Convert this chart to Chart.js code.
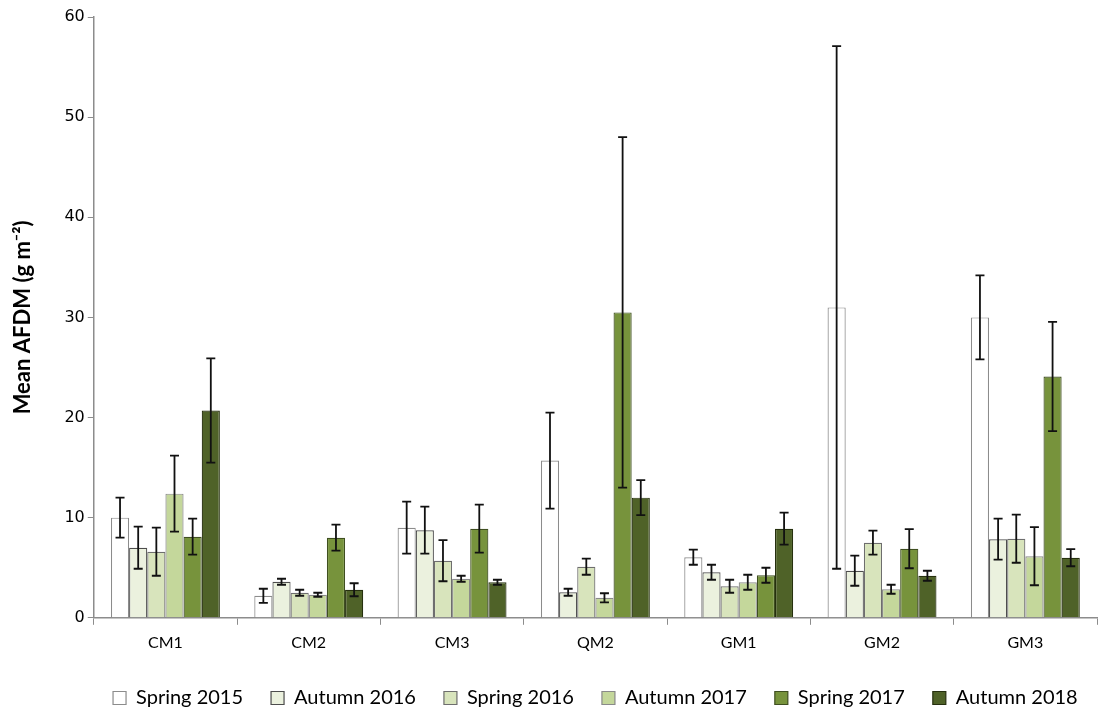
<!DOCTYPE html>
<html>
<head>
<meta charset="utf-8">
<script src="https://cdn.jsdelivr.net/npm/chart.js@4/dist/chart.umd.min.js"></script>
<style>
  html, body { margin: 0; padding: 0; background: #fff; }
  #wrap { width: 1102px; height: 713px; }
</style>
</head>
<body>
<div id="wrap"><canvas id="grafico" width="1102" height="713"></canvas></div>
<script>
// Datos
const sites = ['CM1', 'CM2', 'CM3', 'QM2', 'GM1', 'GM2', 'GM3'];
const seasons = ['Spring 2015', 'Autumn 2016', 'Spring 2016', 'Autumn 2017', 'Spring 2017', 'Autumn 2018'];

const spring2015 = [10.0, 2.2, 9.0, 15.7, 6.05, 31.0, 30.0];
const autumn2016 = [7.0, 3.6, 8.75, 2.55, 4.55, 4.7, 7.85];
const spring2016 = [6.6, 2.5, 5.7, 5.1, 3.15, 7.5, 7.9];
const autumn2017 = [12.4, 2.3, 3.9, 2.0, 3.55, 2.85, 6.15];
const spring2017 = [8.1, 8.0, 8.9, 30.5, 4.25, 6.9, 24.1];
const autumn2018 = [20.7, 2.8, 3.55, 12.0, 8.9, 4.2, 6.0];

// Errores (±)
const errSpring2015 = [2.0, 0.7, 2.6, 4.8, 0.75, 26.1, 4.2];
const errAutumn2016 = [2.1, 0.3, 2.35, 0.35, 0.75, 1.5, 2.05];
const errSpring2016 = [2.4, 0.3, 2.05, 0.8, 0.65, 1.2, 2.4];
const errAutumn2017 = [3.8, 0.2, 0.3, 0.45, 0.75, 0.45, 2.9];
const errSpring2017 = [1.8, 1.3, 2.4, 17.5, 0.75, 1.95, 5.45];
const errAutumn2018 = [5.2, 0.65, 0.25, 1.75, 1.6, 0.5, 0.85];

const yTicks = [0, 10, 20, 30, 40, 50, 60];

const fills = ['#ffffff', '#ebf1de', '#d8e4bc', '#c4d79b', '#77933c', '#4f6228'];
const borders = ['#8c8c8c', '#4d4d4d', '#6e6e6e', '#8a8a8a', '#3f4f20', '#26300f'];

const values = [spring2015, autumn2016, spring2016, autumn2017, spring2017, autumn2018];
const errors = [errSpring2015, errAutumn2016, errSpring2016, errAutumn2017, errSpring2017, errAutumn2018];

const datasets = seasons.map((s, i) => ({
    label: s,
    data: values[i],
    errors: errors[i],
    backgroundColor: fills[i],
    borderColor: borders[i],
    borderWidth: 1.2,
    categoryPercentage: 0.76,
    barPercentage: 1.0
}));

// Plugin para las barras de error
const errorBars = {
    id: 'errorBars',
    afterDatasetsDraw(chart) {
        const ctx = chart.ctx;
        const y = chart.scales.y;
        ctx.save();
        ctx.strokeStyle = '#111';
        ctx.lineWidth = 1.8;
        chart.data.datasets.forEach((ds, i) => {
            const meta = chart.getDatasetMeta(i);
            meta.data.forEach((bar, j) => {
                const v = ds.data[j], e = ds.errors[j];
                const top = y.getPixelForValue(v + e);
                const bot = y.getPixelForValue(Math.max(v - e, 0));
                const cap = 4.5;
                ctx.beginPath();
                ctx.moveTo(bar.x, top); ctx.lineTo(bar.x, bot);
                ctx.moveTo(bar.x - cap, top); ctx.lineTo(bar.x + cap, top);
                ctx.moveTo(bar.x - cap, bot); ctx.lineTo(bar.x + cap, bot);
                ctx.stroke();
            });
        });
        ctx.restore();
    }
};

// Centrar la leyenda sobre el área del gráfico (como en Excel)
const legendShift = {
    id: 'legendShift',
    afterLayout(chart) {
        const lg = chart.legend;
        if (!lg) return;
        const area = chart.chartArea;
        const d = (area.left + area.right) / 2 - (lg.left + lg.right) / 2;
        lg.left += d;
        lg.right += d;
    }
};

new Chart(document.getElementById('grafico').getContext('2d'), {
    type: 'bar',
    data: { labels: sites, datasets: datasets },
    plugins: [errorBars, legendShift],
    options: {
        responsive: false,
        animation: false,
        layout: { padding: { top: 17, right: 5, left: 6, bottom: -5 } },
        plugins: {
            tooltip: { enabled: false },
            legend: {
                position: 'bottom',
                labels: {
                    color: '#000',
                    font: { family: 'Lato', size: 20 },
                    boxWidth: 13,
                    boxHeight: 13,
                    padding: 28,
                    useBorderRadius: false
                }
            }
        },
        scales: {
            x: {
                grid: { display: true, drawOnChartArea: false, drawTicks: true, tickLength: 7, color: '#8c8c8c', offset: true },
                border: { color: '#8c8c8c', width: 1.5 },
                ticks: { color: '#000', font: { family: 'Lato', size: 16 }, padding: 8 }
            },
            y: {
                min: 0,
                max: 60,
                afterBuildTicks(axis) { axis.ticks = yTicks.map(v => ({ value: v })); },
                grid: { display: true, drawOnChartArea: false, drawTicks: true, tickLength: 6, color: '#8c8c8c' },
                border: { color: '#8c8c8c', width: 1.5 },
                ticks: { color: '#000', font: { family: 'DejaVu Sans', size: 16 }, padding: 3 },
                title: {
                    display: true,
                    text: 'Mean AFDM (g m⁻²)',
                    color: '#000',
                    font: { family: 'Lato', size: 22, weight: 'bold' },
                    padding: { bottom: 25 }
                }
            }
        }
    }
});
</script>
</body>
</html>
